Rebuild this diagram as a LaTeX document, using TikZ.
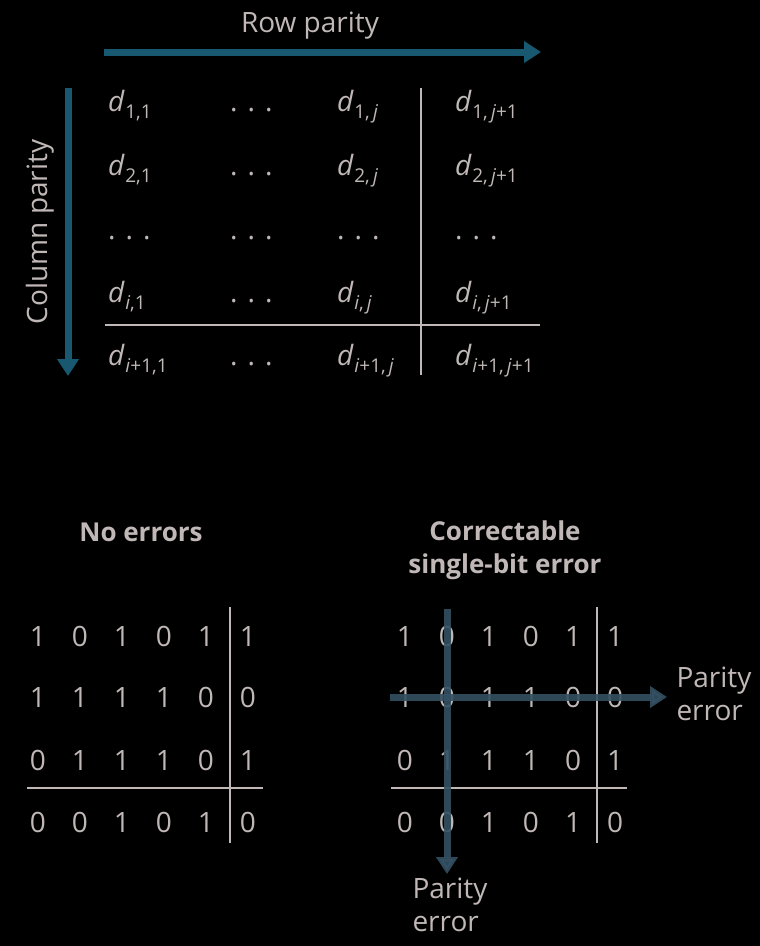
\documentclass[tikz,border=0pt]{standalone}
\usepackage{fontspec}
\setmainfont{Open Sans}
\usetikzlibrary{arrows.meta}
\definecolor{ink}{RGB}{192,184,182}
\definecolor{tealarrow}{RGB}{24,88,112}
\definecolor{slate}{RGB}{52,80,98}
\newcommand{\dsub}[1]{\textit{d}\kern0.5pt\raisebox{-0.5ex}{\fontsize{19}{19}\selectfont #1}}
\newcommand{\skipdots}{.\hspace{10pt}.\hspace{10pt}.}

\begin{document}
\begin{tikzpicture}[
    x=1pt, y=-1pt,
    font=\fontsize{28}{33}\selectfont,
    text=ink,
    entry/.style={anchor=base west, inner sep=0pt, font=\fontsize{28}{30}\selectfont},
    bit/.style={anchor=base, font=\fontsize{28}{30}\selectfont},
    heading/.style={font=\fontsize{26}{33}\selectfont\bfseries, align=center},
    rule/.style={draw=ink, line width=1.3pt},
    parity/.style={draw=tealarrow, line width=7pt, -{Triangle[length=17pt,width=21pt]}},
    errflow/.style={draw=slate, opacity=0.9, line width=7pt, -{Triangle[length=17pt,width=21pt]}}
]

% Background
\fill[black] (0,0) rectangle (760,946);
\useasboundingbox (0,0) rectangle (760,946);

% === TOP: general layout ===
\node at (310,26) (rowlbl) {Row parity};
\node[rotate=90] at (40,232) (collbl) {Column parity};

\coordinate (rowstart) at (104,52);
\coordinate (rowend) at (541,52);
\coordinate (colstart) at (68,88);
\coordinate (colend) at (68,376);
\draw[parity] (rowstart) -- (rowend);
\draw[parity] (colstart) -- (colend);

\node[entry] at (108,111) (d11) {\dsub{1,1}};
\node[entry] at (230,111) (d12) {\skipdots};
\node[entry] at (337,111) (d1j) {\dsub{1,\,\textit{j}}};
\node[entry] at (455,111) (d1k) {\dsub{1,\,\textit{j}+1}};

\node[entry] at (108,175) (d21) {\dsub{2,1}};
\node[entry] at (230,175) (d22) {\skipdots};
\node[entry] at (337,175) (d2j) {\dsub{2,\,\textit{j}}};
\node[entry] at (455,175) (d2k) {\dsub{2,\,\textit{j}+1}};

\node[entry] at (108,239) (e1) {\skipdots};
\node[entry] at (230,239) (e2) {\skipdots};
\node[entry] at (337,239) (e3) {\skipdots};
\node[entry] at (455,239) (e4) {\skipdots};

\node[entry] at (108,302) (di1) {\dsub{\textit{i},1}};
\node[entry] at (230,302) (di2) {\skipdots};
\node[entry] at (337,302) (dij) {\dsub{\textit{i},\,\textit{j}}};
\node[entry] at (455,302) (dik) {\dsub{\textit{i},\,\textit{j}+1}};

\node[entry] at (108,365) (dl1) {\dsub{\textit{i}+1,1}};
\node[entry] at (230,365) (dl2) {\skipdots};
\node[entry] at (337,365) (dlj) {\dsub{\textit{i}+1,\,\textit{j}}};
\node[entry] at (455,365) (dlk) {\dsub{\textit{i}+1,\,\textit{j}+1}};

\draw[rule] (105,325) -- (540,325);
\draw[rule] (421,88) -- (421,375);

% === BOTTOM LEFT: no errors ===
\node[heading] at (141,532) (okhead) {No errors};

\foreach \r/\y/\bits in {1/646/{1,0,1,0,1,1}, 2/707/{1,1,1,1,0,0},
                         3/770/{0,1,1,1,0,1}, 4/832/{0,0,1,0,1,0}} {
  \foreach \b [count=\c] in \bits {
    \node[bit] at ({-4+42*\c},\y) (ok\r\c) {\b};
  }
}
\draw[rule] (27,788) -- (263,788);
\draw[rule] (230,607) -- (230,843);

% === BOTTOM RIGHT: single-bit error ===
\node[heading] at (505,550) (errhead) {Correctable\\single-bit error};

\foreach \r/\y/\bits in {1/646/{1,0,1,0,1,1}, 2/707/{1,0,1,1,0,0},
                         3/770/{0,1,1,1,0,1}, 4/832/{0,0,1,0,1,0}} {
  \foreach \b [count=\c] in \bits {
    \node[bit] at ({363+42*\c},\y) (bad\r\c) {\b};
  }
}
\draw[rule] (391,788) -- (627,788);
\draw[rule] (597,607) -- (597,843);

\node[align=left, anchor=west] at (673,694) (rowerr) {Parity\\error};
\node[align=left] at (450,905) (colerr) {Parity\\error};

\coordinate (hstart) at (390,697);
\coordinate (hend) at (667,697);
\coordinate (vstart) at (447,609);
\coordinate (vend) at (447,874);
\draw[errflow] (hstart) -- (hend);
\draw[errflow] (vstart) -- (vend);

\end{tikzpicture}
\end{document}
